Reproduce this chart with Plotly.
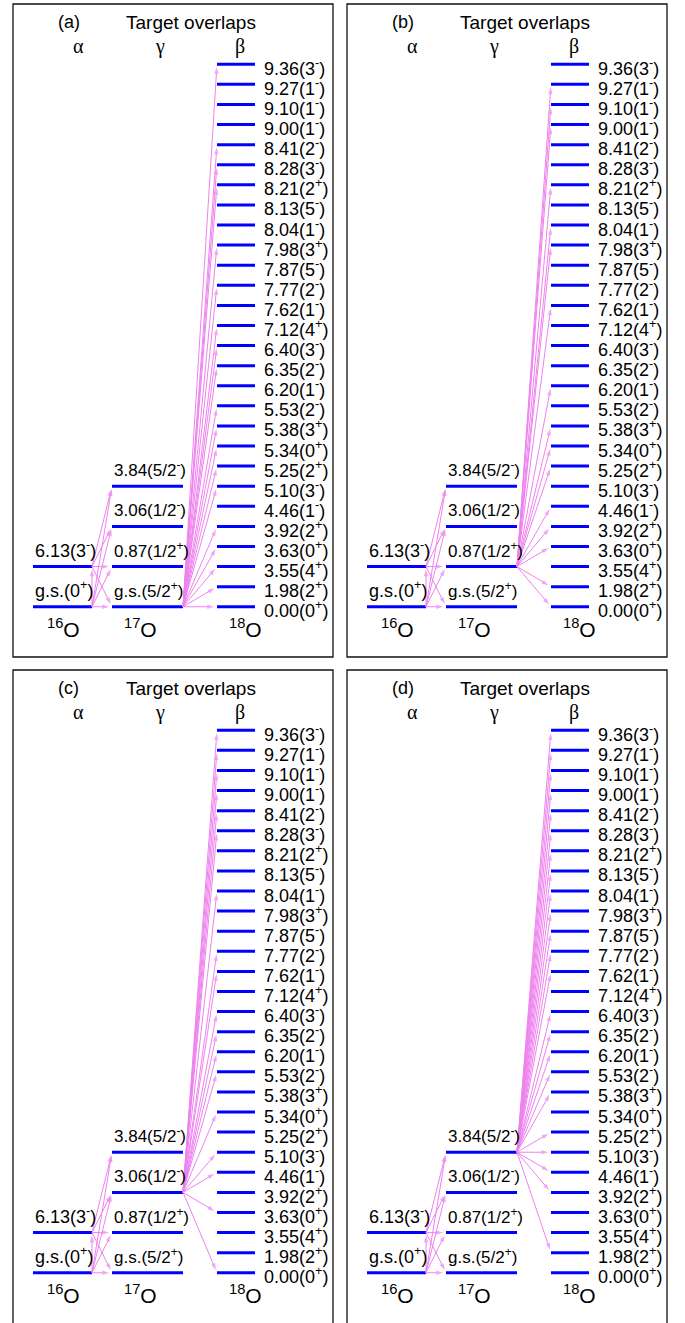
import plotly.graph_objects as go

# ---------------- data ----------------
panel_tags = ["(a)", "(b)", "(c)", "(d)"]
title_text = "Target overlaps"
column_names = ["α", "γ", "β"]
nuclei = ["16", "17", "18"]

alpha_energies = ["g.s.", "6.13"]
alpha_spins = ["0<sup>+</sup>", "3<sup>-</sup>"]

gamma_energies = ["g.s.", "0.87", "3.06", "3.84"]
gamma_spins = ["5/2<sup>+</sup>", "1/2<sup>+</sup>", "1/2<sup>-</sup>", "5/2<sup>-</sup>"]

beta_energies = ["0.00", "1.98", "3.55", "3.63", "3.92", "4.46", "5.10", "5.25",
                 "5.34", "5.38", "5.53", "6.20", "6.35", "6.40", "7.12", "7.62",
                 "7.77", "7.87", "7.98", "8.04", "8.13", "8.21", "8.28", "8.41",
                 "9.00", "9.10", "9.27", "9.36"]
beta_spins = ["0+", "2+", "4+", "0+", "2+", "1-", "3-", "2+",
              "0+", "3+", "2-", "1-", "2-", "3-", "4+", "1-",
              "2-", "5-", "3+", "1-", "5-", "2+", "3-", "2-",
              "1-", "1-", "1-", "3-"]

# 16O -> 17O couplings (alpha index, gamma index), identical in all panels
alpha_gamma_links = [(0, 0), (0, 1), (0, 2), (0, 3), (1, 0), (1, 1), (1, 2), (1, 3)]
# inelastic 16O g.s. -> 6.13
alpha_alpha_links = [(0, 1)]

# 17O state feeding 18O in each panel, and the 18O states reached
panel_gamma_source = [0, 1, 2, 3]
panel_beta_targets = [
    [0, 1, 2, 3, 4, 6, 7, 8, 9, 10, 12, 13, 14, 16, 18, 21, 22, 23, 27],
    [0, 1, 3, 4, 5, 7, 8, 9, 11, 15, 18, 19, 21, 24, 25, 26],
    [0, 3, 5, 6, 8, 10, 11, 12, 13, 15, 16, 19, 22, 23, 24, 25, 26, 27],
    [1, 4, 5, 6, 7, 9, 10, 11, 12, 13, 15, 16, 17, 18, 19, 20, 21, 22, 23, 24, 25, 26, 27],
]

# ---------------- layout constants ----------------
W, H = 685, 1323
alpha_rows = [0, 2]
gamma_rows = [0, 2, 4, 6]
alpha_x = (20, 79)
gamma_x = (99, 170)
beta_x = (204, 242)
label_x = 249
LEVEL_COLOR = "#0000ff"
ARROW_COLOR = "#ee82ee"
SANS = "Liberation Sans, Arial, Helvetica, sans-serif"
SERIF = "Liberation Serif, Times New Roman, serif"

xdoms = [[13 / W, 333 / W], [347 / W, 667 / W]]
ydoms = [[1 - 657 / H, 1 - 4 / H], [0.0, 1 - 670 / H]]

fig = go.Figure()
annotations = []
shapes = []

def fmt_spin(s):
    return s[:-1] + "<sup>" + s[-1] + "</sup>"

for p in range(4):
    col = p % 2
    row = p // 2
    xname = "x" if p == 0 else f"x{p+1}"
    yname = "y" if p == 0 else f"y{p+1}"
    xkey = "xaxis" if p == 0 else f"xaxis{p+1}"
    ykey = "yaxis" if p == 0 else f"yaxis{p+1}"
    fig.layout[xkey] = dict(domain=xdoms[col], range=[0, 320], visible=False, fixedrange=True)
    fig.layout[ykey] = dict(domain=ydoms[row], range=[-2.5, 30.0], visible=False, fixedrange=True)

    # frame
    shapes.append(dict(type="rect", xref=f"{xname} domain", yref=f"{yname} domain",
                       x0=0, x1=1, y0=(0 if row == 0 else -0.02), y1=1,
                       line=dict(color="#111", width=1.3), fillcolor="rgba(0,0,0,0)"))

    # level lines
    def seg(xr, rows):
        xs, ys = [], []
        for r in rows:
            xs += [xr[0], xr[1], None]
            ys += [r, r, None]
        return xs, ys

    for xr, rows in [(alpha_x, alpha_rows), (gamma_x, gamma_rows),
                     (beta_x, list(range(len(beta_energies))))]:
        xs, ys = seg(xr, rows)
        fig.add_trace(go.Scatter(x=xs, y=ys, mode="lines", xaxis=xname, yaxis=yname,
                                 line=dict(color=LEVEL_COLOR, width=3),
                                 hoverinfo="skip", showlegend=False))

    # arrows: collect segments
    ax_, ay_, sz = [], [], []

    def arrow(x0, y0, x1, y1):
        ax_.extend([x0, x1, None])
        ay_.extend([y0, y1, None])
        sz.extend([0, 7, 0])

    for a, g in alpha_gamma_links:
        arrow(alpha_x[1], alpha_rows[a], gamma_x[0], gamma_rows[g])
    for a, b in alpha_alpha_links:
        arrow(alpha_x[1], alpha_rows[a], alpha_x[1], alpha_rows[b])
    src = panel_gamma_source[p]
    for t in panel_beta_targets[p]:
        arrow(gamma_x[1], gamma_rows[src], beta_x[0], t)

    fig.add_trace(go.Scatter(x=ax_, y=ay_, mode="lines+markers", xaxis=xname, yaxis=yname,
                             line=dict(color=ARROW_COLOR, width=1),
                             marker=dict(symbol="arrow", size=sz, color=ARROW_COLOR,
                                         angleref="previous", standoff=3,
                                         line=dict(width=0)),
                             connectgaps=False, hoverinfo="skip", showlegend=False))

    def txt(x, y, s, size=18, font=SANS, xanchor="left", yshift=0):
        annotations.append(dict(x=x, y=y, xref=xname, yref=yname, text=s, showarrow=False,
                                xanchor=xanchor, yanchor="middle", yshift=yshift,
                                font=dict(family=font, size=size, color="black")))

    # headers
    txt(55.5, 29.1, panel_tags[p], xanchor="center")
    txt(178, 29.1, title_text, size=19, xanchor="center")
    for cx, name in zip([65, 147, 227], column_names):
        txt(cx, 27.9, name, size=20, font=SERIF, xanchor="center")

    # level labels
    for i, (e, s) in enumerate(zip(alpha_energies, alpha_spins)):
        txt(alpha_x[0], alpha_rows[i] + 0.85, f"{e}({s})")
    for i, (e, s) in enumerate(zip(gamma_energies, gamma_spins)):
        txt(gamma_x[0], gamma_rows[i] + 0.85, f"{e}({s})", size=17)
    for i, (e, s) in enumerate(zip(beta_energies, beta_spins)):
        txt(label_x, i, f"{e}({fmt_spin(s)})", yshift=-3)

    # nuclide labels
    for cx, A in zip([50, 127, 232], nuclei):
        txt(cx, -1.05, f"<sup>{A}</sup>O", size=21, xanchor="center")

fig.update_layout(width=W, height=H, margin=dict(l=0, r=0, t=0, b=0),
                  paper_bgcolor="white", plot_bgcolor="white",
                  annotations=annotations, shapes=shapes, showlegend=False)
fig.write_html("out.html")
